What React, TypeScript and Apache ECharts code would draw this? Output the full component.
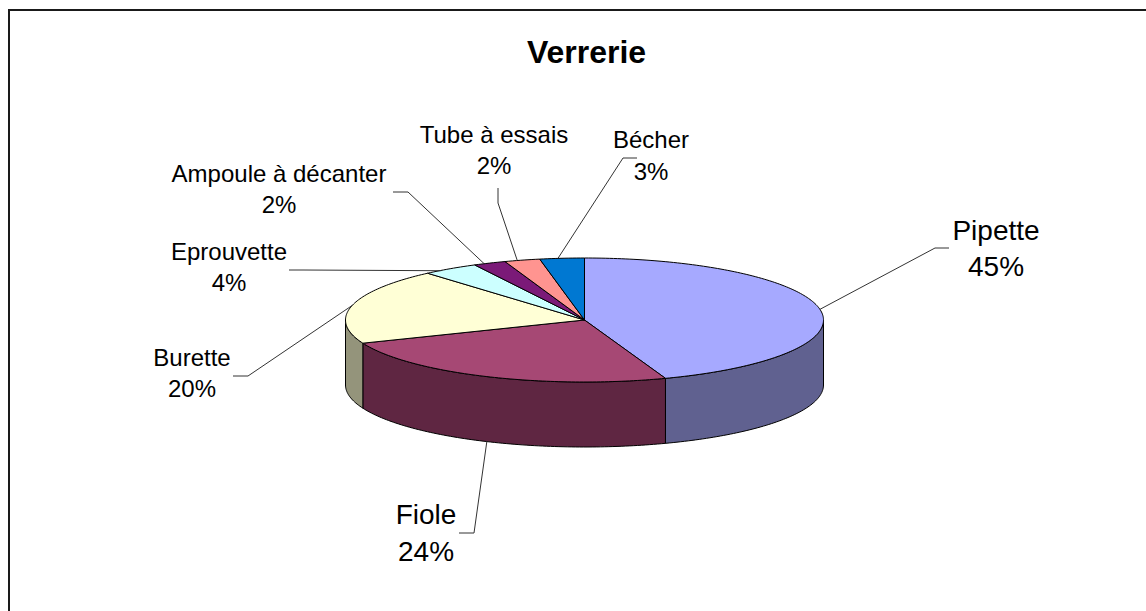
import React, { useEffect, useRef } from "react";
import * as echarts from "echarts";

const titleText = "Verrerie";
const categories = ["Pipette", "Fiole", "Burette", "Eprouvette", "Ampoule à décanter", "Tube à essais", "Bécher"];
const values = [44.5, 24.4, 19.7, 3.8, 2.2, 2.4, 3.0];
const topColors = ["#A6A9FF", "#A64874", "#FFFFD6", "#CCFFFF", "#7B1A78", "#FF9490", "#0078D2"];
const sideColors = ["#606190", "#5F2642", "#94947B", "#77948F", "#470F45", "#945654", "#00457A"];

const FONT = '"Liberation Sans", Arial, sans-serif';
const CX = 584.5, CY = 320, RX = 239, RY = 62, DEPTH = 65;
const STEP = 1;

// label layout: centre of the two-line text, font size, leader-line start, elbow and end nudge
const labelLayout = [
  { x: 996, y: 248, size: 28, lh: 36, from: [949, 248], elbow: [935, 248], nudge: [0, 0] },
  { x: 426, y: 533, size: 28, lh: 37, from: [459, 533], elbow: [474, 533], nudge: [0, 0] },
  { x: 192, y: 373, size: 24, lh: 31, from: [233, 376], elbow: [248, 376], nudge: [0, 0] },
  { x: 229, y: 267, size: 24, lh: 31, from: [289, 270], elbow: [303, 270], nudge: [-9, 2] },
  { x: 279, y: 189, size: 24, lh: 31, from: [393, 192], elbow: [408, 192], nudge: [-5, 1] },
  { x: 494, y: 150, size: 24, lh: 31, from: [498, 188], elbow: [498, 203], nudge: [-5, 0] },
  { x: 651, y: 155, size: 24, lh: 32, from: [637, 158], elbow: [623, 158], nudge: [-4, 0] },
];

const total = values.reduce((a, b) => a + b, 0);
const starts = values.map((_, i) => values.slice(0, i).reduce((a, b) => a + b, 0));

function pt(pct: number, dy = 0): number[] {
  const a = (pct / total) * Math.PI * 2;
  return [CX + RX * Math.sin(a), CY - RY * Math.cos(a) + dy];
}
function arc(from: number, to: number, dy = 0): number[][] {
  const pts: number[][] = [];
  const span = to - from;
  const n = Math.max(2, Math.ceil(((span / total) * 360) / STEP));
  for (let i = 0; i <= n; i++) pts.push(pt(from + (span * i) / n, dy));
  return pts;
}

const rows = values.map((v, i) => [i, starts[i], v]);

function renderSide(_: any, api: any) {
  const i = api.value(0);
  const s = Math.max(api.value(1), total * 0.25);
  const e = Math.min(api.value(1) + api.value(2), total * 0.75);
  if (e <= s) return null;
  const points = [...arc(s, e), ...arc(s, e, DEPTH).reverse()];
  return {
    type: "polygon",
    shape: { points },
    style: { fill: sideColors[i], stroke: "#000", lineWidth: 1 },
    silent: true,
  };
}
function renderTop(_: any, api: any) {
  const i = api.value(0);
  const s = api.value(1);
  const e = s + api.value(2);
  return {
    type: "polygon",
    shape: { points: [[CX, CY], ...arc(s, e)] },
    style: { fill: topColors[i], stroke: "#000", lineWidth: 1 },
    silent: true,
  };
}

function anchor(i: number): number[] {
  const mid = starts[i] + values[i] / 2;
  const frac = mid / total;
  const p = pt(mid, frac > 0.25 && frac < 0.75 ? DEPTH : 0);
  const n = labelLayout[i].nudge;
  return [p[0] + n[0], p[1] + n[1]];
}

export default function App() {
  const ref = useRef<HTMLDivElement>(null);
  useEffect(() => {
    document.body.style.margin = "0";
    const chart = echarts.init(ref.current!, undefined, { renderer: "svg" });
    const graphics: any[] = [
      { type: "line", shape: { x1: 9, y1: 10, x2: 1146, y2: 10 }, style: { stroke: "#1a1a1a", lineWidth: 2 }, silent: true },
      { type: "line", shape: { x1: 9, y1: 9, x2: 9, y2: 611 }, style: { stroke: "#1a1a1a", lineWidth: 2 }, silent: true },
    ];
    categories.forEach((c, i) => {
      const l = labelLayout[i];
      graphics.push({
        type: "polyline",
        z: 5,
        silent: true,
        shape: { points: [l.from, l.elbow, anchor(i)] },
        style: { stroke: "#333", lineWidth: 1, fill: "none" },
      });
      graphics.push({
        type: "text",
        z: 6,
        silent: true,
        x: l.x,
        y: l.y,
        style: {
          text: `${c}\n${Math.round(values[i])}%`,
          font: `${l.size}px ${FONT}`,
          lineHeight: l.lh,
          fill: "#000",
          align: "center",
          verticalAlign: "middle",
        },
      });
    });
    chart.setOption({
      animation: false,
      backgroundColor: "#fff",
      title: {
        text: titleText,
        left: 581.5,
        top: 31,
        textAlign: "center",
        textStyle: { fontFamily: FONT, fontSize: 32, fontWeight: "bold", color: "#000" },
      },
      series: [
        { type: "custom", coordinateSystem: "none", data: rows, renderItem: renderSide, z: 1, silent: true },
        { type: "custom", coordinateSystem: "none", data: rows, renderItem: renderTop, z: 2, silent: true },
      ],
      graphic: graphics,
    });
    return () => chart.dispose();
  }, []);
  return <div ref={ref} style={{ width: 1146, height: 611 }} />;
}
